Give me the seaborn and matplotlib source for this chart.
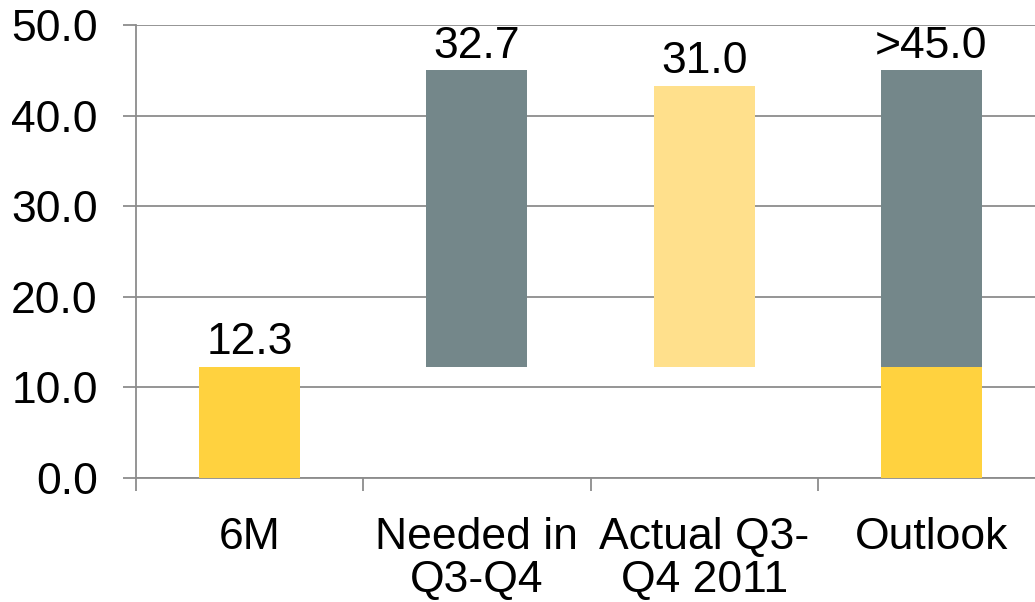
import matplotlib
matplotlib.use("Agg")
import matplotlib.pyplot as plt
import seaborn as sns
import pandas as pd
import numpy as np

# Categories and values (in the chart's units)
categories = ["6M", "Needed in\nQ3-Q4", "Actual Q3-\nQ4 2011", "Outlook"]
base_values = [12.3, 0.0, 0.0, 12.3]          # yellow base segment
float_values = [0.0, 32.7, 31.0, 32.7]        # floating segment above the base
float_start = [0.0, 12.3, 12.3, 12.3]
value_labels = ["12.3", "32.7", "31.0", ">45.0"]
label_tops = [12.3, 45.0, 43.3, 45.0]
yticks = [0, 10, 20, 30, 40, 50]

YELLOW = "#FFD23F"
GREY = "#74878A"
LIGHT_YELLOW = "#FFE08C"
float_colors = [None, GREY, LIGHT_YELLOW, GREY]
AXIS_GREY = "#8C8C8C"
FS = 32

sns.set_theme(style="white")
plt.rcParams["font.family"] = ["Liberation Sans", "DejaVu Sans"]
plt.rcParams["text.color"] = "black"

fig = plt.figure(figsize=(10.35, 6.02), dpi=100)
ax = fig.add_axes([136 / 1035, 124 / 602, 909 / 1035, 453 / 602])

df = pd.DataFrame({"category": categories, "base": base_values})
sns.barplot(data=df, x="category", y="base", color=YELLOW, width=0.445,
            saturation=1, ax=ax, zorder=3, linewidth=0)

x = np.arange(len(categories))
for xi, start, h, c in zip(x, float_start, float_values, float_colors):
    if h > 0:
        ax.bar(xi, h, bottom=start, width=0.445, color=c, linewidth=0, zorder=3)

for xi, top, lab in zip(x, label_tops, value_labels):
    ax.text(xi, top + 0.4, lab, ha="center", va="bottom", fontsize=FS, color="black")

ax.set_xlim(-0.5, 3.5)
ax.set_ylim(0, 50)
ax.set_yticks(yticks)
ax.set_yticklabels([f"{v:.1f}" for v in yticks])
ax.yaxis.grid(True, color=AXIS_GREY, linewidth=1.3, zorder=0)
ax.set_axisbelow(True)
ax.set_xlabel("")
ax.set_ylabel("")

for side in ["top", "right"]:
    ax.spines[side].set_visible(False)
for side in ["left", "bottom"]:
    ax.spines[side].set_color(AXIS_GREY)
    ax.spines[side].set_linewidth(1.3)

ax.tick_params(axis="y", which="major", length=9.5, width=1.3, color=AXIS_GREY,
               direction="out", pad=18, labelsize=FS, labelcolor="black", left=True)
ax.set_xticks(x)
ax.set_xticklabels(categories, linespacing=1.08)
ax.tick_params(axis="x", which="major", length=0, pad=28, labelsize=FS,
               labelcolor="black")
ax.set_xticks([-0.5, 0.5, 1.5, 2.5, 3.5], minor=True)
ax.tick_params(axis="x", which="minor", length=9.5, width=1.3, color=AXIS_GREY,
               direction="out", bottom=True)
for lbl in ax.get_xticklabels():
    lbl.set_verticalalignment("top")

fig.savefig("out.png", dpi=100)
